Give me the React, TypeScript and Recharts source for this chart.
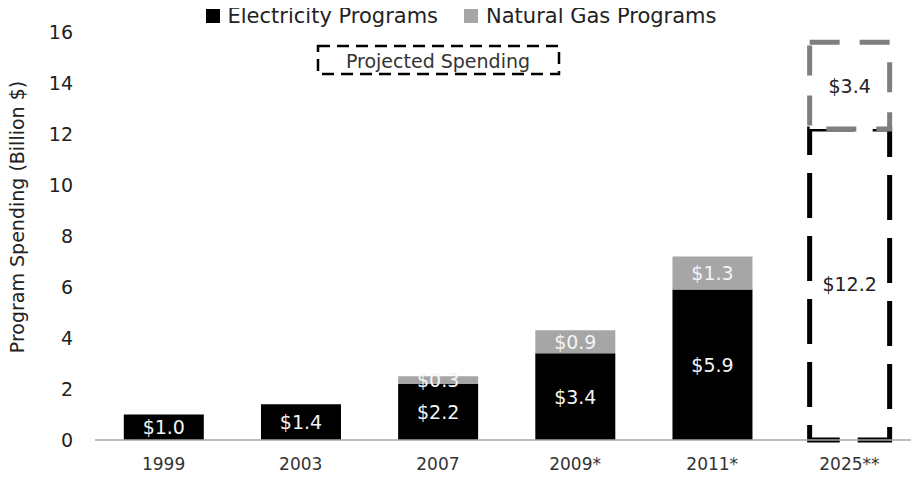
import React from "react";
import {
  BarChart,
  Bar,
  XAxis,
  YAxis,
  Legend,
  Cell,
  LabelList,
} from "recharts";

const years = ["1999", "2003", "2007", "2009*", "2011*", "2025**"];
const electricity = [1.0, 1.4, 2.2, 3.4, 5.9, 12.2];
const naturalGas = [0, 0, 0.3, 0.9, 1.3, 3.4];
const projected = [false, false, false, false, false, true];
const yTicks = [0, 2, 4, 6, 8, 10, 12, 14, 16];

const data = years.map((year, i) => ({
  year,
  electricity: electricity[i],
  gas: naturalGas[i],
  projected: projected[i],
}));

const FONT = "'DejaVu Sans', 'Open Sans', sans-serif";
const GAS = "#a6a6a6";

// the label value is the whole row, so we know the value and whether it is projected
function makeLabel(key: "electricity" | "gas") {
  return (props: any) => {
    const { x, y, width, height, value } = props;
    const row = value;
    if (!row || !row[key]) return null;
    return (
      <text
        x={x + width / 2}
        y={y + height / 2}
        textAnchor="middle"
        dominantBaseline="central"
        fontSize={19}
        fontFamily={FONT}
        fill={row.projected ? "#222" : "#f4f4f4"}
      >
        {`$${row[key].toFixed(1)}`}
      </text>
    );
  };
}

const YLabel = (props: any) => {
  const { viewBox } = props;
  const cy = viewBox.y + viewBox.height / 2 - 19;
  return (
    <text
      x={17}
      y={cy}
      transform={`rotate(-90, 17, ${cy})`}
      textAnchor="middle"
      dominantBaseline="central"
      fontSize={19}
      fontFamily={FONT}
      fill="#222"
    >
      Program Spending (Billion $)
    </text>
  );
};

const LegendContent = () => (
  <div
    style={{
      display: "flex",
      justifyContent: "center",
      gap: 26,
      fontFamily: FONT,
      fontSize: 21,
      color: "#222",
      lineHeight: "22px",
      marginTop: -3,
      paddingLeft: 4,
    }}
  >
    <span>
      <span style={{ display: "inline-block", width: 14, height: 14, background: "#000", marginRight: 8 }} />
      Electricity Programs
    </span>
    <span>
      <span style={{ display: "inline-block", width: 14, height: 14, background: GAS, marginRight: 8 }} />
      Natural Gas Programs
    </span>
  </div>
);

export default function App() {
  return (
    <div style={{ position: "relative", width: 919, height: 480, margin: -8, background: "#fff" }}>
      <BarChart
        width={919}
        height={480}
        data={data}
        margin={{ top: 8, right: 1, bottom: 10, left: 0 }}
        barCategoryGap="21%"
      >
        <Legend verticalAlign="top" height={24} content={<LegendContent />} />
        <XAxis
          dataKey="year"
          axisLine={{ stroke: "#a6a6a6", strokeWidth: 1.5 }}
          tickLine={false}
          tickMargin={12}
          height={30}
          tick={{ fontSize: 17, fontFamily: FONT, fill: "#333" }}
        />
        <YAxis
          width={95}
          domain={[0, 16]}
          ticks={yTicks}
          axisLine={false}
          tickLine={false}
          tickMargin={16}
          tick={{ fontSize: 19, fontFamily: FONT, fill: "#222" }}
          label={<YLabel />}
        />
        <Bar dataKey="electricity" stackId="a" fill="#000" isAnimationActive={false}>
          {data.map((d, i) =>
            d.projected ? (
              <Cell key={i} fill="#fff" stroke="#000" strokeWidth={5} strokeDasharray="45 18" />
            ) : (
              <Cell key={i} fill="#000" />
            )
          )}
          <LabelList dataKey={(d: any) => d} content={makeLabel("electricity")} />
        </Bar>
        <Bar dataKey="gas" stackId="a" fill={GAS} isAnimationActive={false}>
          {data.map((d, i) =>
            d.projected ? (
              <Cell key={i} fill="#fff" stroke="#7f7f7f" strokeWidth={5} strokeDasharray="30 20" />
            ) : (
              <Cell key={i} fill={GAS} />
            )
          )}
          <LabelList dataKey={(d: any) => d} content={makeLabel("gas")} />
        </Bar>
      </BarChart>
      <svg
        width={919}
        height={480}
        style={{ position: "absolute", left: 0, top: 0, pointerEvents: "none" }}
      >
        <rect
          x={318}
          y={46}
          width={241}
          height={28}
          fill="none"
          stroke="#000"
          strokeWidth={2.5}
          strokeDasharray="12 7"
        />
        <text
          x={438}
          y={61}
          textAnchor="middle"
          dominantBaseline="central"
          fontSize={19}
          fontFamily={FONT}
          fill="#333"
        >
          Projected Spending
        </text>
      </svg>
    </div>
  );
}
